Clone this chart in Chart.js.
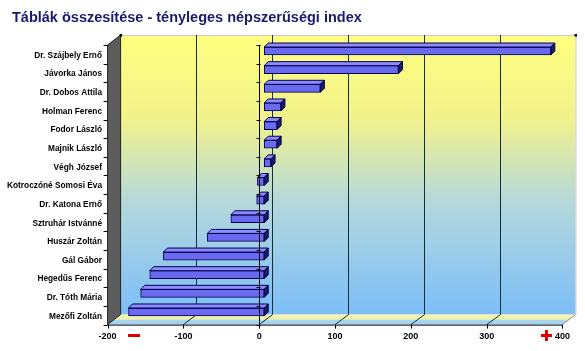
<!DOCTYPE html>
<html>
<head>
<meta charset="utf-8">
<script src="https://cdn.jsdelivr.net/npm/chart.js@4"></script>
<style>
    html, body { margin: 0; padding: 0; background: #ffffff; }
</style>
</head>
<body>
<canvas id="chart" width="585" height="351"></canvas>
<script>

const chartTitle = "Táblák összesítése - tényleges népszerűségi index";

const names = [
    "Dr. Szájbely Ernő",
    "Jávorka János",
    "Dr. Dobos Attila",
    "Holman Ferenc",
    "Fodor László",
    "Majnik László",
    "Végh József",
    "Kotroczóné Somosi Éva",
    "Dr. Katona Ernő",
    "Sztruhár Istvánné",
    "Huszár Zoltán",
    "Gál Gábor",
    "Hegedűs Ferenc",
    "Dr. Tóth Mária",
    "Mezőfi Zoltán"
];

const indexValues = [378, 177, 74, 22, 17, 17, 9, -9, -10, -44, -75, -133, -151, -163, -179];

const xMin = -200;
const xMax = 400;
const xStep = 100;

/* depth of the 3D box */
const FRONT_DX = -5, FRONT_DY = 3.3;
const BACK_DX = 8, BACK_DY = -6.7;
const BAR_D = 4;

const scene3d = {
    id: "scene3d",

    beforeDatasetsDraw(chart) {
        const ctx = chart.ctx;
        const x = chart.scales.x;
        const a = chart.chartArea;

        const fTop = a.top + FRONT_DY, fBot = a.bottom + FRONT_DY;
        const bTop = a.top + BACK_DY, bBot = a.bottom + BACK_DY;
        const fx = v => x.getPixelForValue(v) + FRONT_DX;
        const bx = v => x.getPixelForValue(v) + BACK_DX;

        ctx.save();

        /* title */
        ctx.fillStyle = "#1a1a6e";
        ctx.font = "bold 14.5px Arial, 'Liberation Sans'";
        ctx.textBaseline = "middle";
        ctx.fillText(chartTitle, 12, 18);

        /* back wall */
        const g = ctx.createLinearGradient(0, bTop, 0, bBot);
        g.addColorStop(0, "#ffff80");
        g.addColorStop(0.3, "#f2f28c");
        g.addColorStop(0.6, "#b4d8dc");
        g.addColorStop(1, "#7cbef8");
        ctx.fillStyle = g;
        ctx.fillRect(bx(xMin), bTop, bx(xMax) - bx(xMin), bBot - bTop);

        ctx.strokeStyle = "#c8c8c8";
        ctx.lineWidth = 1;
        ctx.beginPath();
        ctx.moveTo(bx(xMin), bTop + 0.5);
        ctx.lineTo(bx(xMax) + 0.5, bTop + 0.5);
        ctx.lineTo(bx(xMax) + 0.5, bBot);
        ctx.stroke();

        /* floor */
        const fg = ctx.createLinearGradient(0, bBot, 0, fBot);
        fg.addColorStop(0, "#f4f4a8");
        fg.addColorStop(0.45, "#f0f0b0");
        fg.addColorStop(0.6, "#a8d4f0");
        fg.addColorStop(1, "#a0d0f4");
        ctx.fillStyle = fg;
        ctx.beginPath();
        ctx.moveTo(fx(xMin), fBot);
        ctx.lineTo(bx(xMin), bBot);
        ctx.lineTo(bx(xMax), bBot);
        ctx.lineTo(fx(xMax), fBot);
        ctx.closePath();
        ctx.fill();
        ctx.strokeStyle = "#8a8a8a";
        ctx.beginPath();
        ctx.moveTo(bx(xMax), bBot);
        ctx.lineTo(fx(xMax), fBot);
        ctx.stroke();

        /* grid lines on back wall and floor */
        ctx.strokeStyle = "#10303c";
        for (let v = xMin + xStep; v < xMax; v += xStep) {
            const px = Math.round(bx(v)) + 0.5;
            ctx.beginPath();
            ctx.moveTo(px, bTop);
            ctx.lineTo(px, bBot);
            ctx.lineTo(fx(v), fBot);
            ctx.stroke();
        }

        /* left wall */
        ctx.fillStyle = "#5c5c5c";
        ctx.beginPath();
        ctx.moveTo(fx(xMin), fTop);
        ctx.lineTo(bx(xMin), bTop);
        ctx.lineTo(bx(xMin), bBot);
        ctx.lineTo(fx(xMin), fBot);
        ctx.closePath();
        ctx.fill();
        ctx.strokeStyle = "#222";
        ctx.stroke();
        ctx.fillStyle = "#000";
        ctx.fillRect(bx(xMin) - 1, bTop - 1, 2.5, 2.5);
        ctx.fillRect(bx(xMax) - 1, bTop - 1, 2.5, 2.5);

        /* front axis line and ticks */
        ctx.strokeStyle = "#000";
        ctx.beginPath();
        ctx.moveTo(fx(xMin), fBot + 0.5);
        ctx.lineTo(fx(xMax), fBot + 0.5);
        xTicksDraw(ctx, fx, fBot);
        ctx.stroke();

        /* category ticks on the wall edge */
        const band = (a.bottom - a.top) / names.length;
        ctx.beginPath();
        for (let i = 0; i <= names.length; i++) {
            const py = Math.round(fTop + i * band) + 0.5;
            ctx.moveTo(fx(xMin) - 4, py);
            ctx.lineTo(fx(xMin), py);
        }
        ctx.stroke();

        /* red minus / plus markers */
        ctx.fillStyle = "#e00000";
        ctx.fillRect(128, 334, 12, 3);
        ctx.fillRect(541, 334, 11, 3);
        ctx.fillRect(545, 330, 3, 11);

        ctx.restore();
    },

    afterDatasetsDraw(chart) {
        const ctx = chart.ctx;
        const x = chart.scales.x;
        const a = chart.chartArea;
        const meta = chart.getDatasetMeta(0);

        ctx.save();
        ctx.lineWidth = 1;
        ctx.strokeStyle = "#000050";

        meta.data.forEach(bar => {
            const left = Math.min(bar.x, bar.base);
            const right = Math.max(bar.x, bar.base);
            const top = bar.y - bar.height / 2;
            const bottom = bar.y + bar.height / 2;

            /* top face */
            ctx.fillStyle = "#8c8cff";
            ctx.beginPath();
            ctx.moveTo(left, top);
            ctx.lineTo(left + BAR_D, top - BAR_D);
            ctx.lineTo(right + BAR_D, top - BAR_D);
            ctx.lineTo(right, top);
            ctx.closePath();
            ctx.fill();
            ctx.stroke();

            /* side face */
            ctx.fillStyle = "#1c1c5c";
            ctx.beginPath();
            ctx.moveTo(right, top);
            ctx.lineTo(right + BAR_D, top - BAR_D);
            ctx.lineTo(right + BAR_D, bottom - BAR_D);
            ctx.lineTo(right, bottom);
            ctx.closePath();
            ctx.fill();
            ctx.stroke();
        });

        /* value axis at zero with its ticks */
        const zx = Math.round(x.getPixelForValue(0) + FRONT_DX) + 0.5;
        const fTop = a.top + FRONT_DY, fBot = a.bottom + FRONT_DY;
        const band = (a.bottom - a.top) / names.length;
        ctx.strokeStyle = "#000";
        ctx.beginPath();
        ctx.moveTo(zx, fTop);
        ctx.lineTo(zx, fBot);
        for (let i = 0; i <= names.length; i++) {
            const py = Math.round(fTop + i * band) + 0.5;
            ctx.moveTo(zx - 3, py);
            ctx.lineTo(zx + 1, py);
        }
        ctx.stroke();

        ctx.restore();
    }
};

function xTicksDraw(ctx, fx, fBot) {
    for (let v = xMin; v <= xMax; v += xStep) {
        ctx.moveTo(Math.round(fx(v)) + 0.5, fBot);
        ctx.lineTo(Math.round(fx(v)) + 0.5, fBot + 4);
    }
}

new Chart(document.getElementById("chart"), {
    type: "bar",
    data: {
        labels: names,
        datasets: [{
            data: indexValues,
            backgroundColor: "#6a6af0",
            borderColor: "#000050",
            borderWidth: 1,
            borderSkipped: false,
            barThickness: 8
        }]
    },
    options: {
        indexAxis: "y",
        responsive: false,
        animation: false,
        layout: {
            padding: { left: 0, right: 15, top: 41.7, bottom: 0 }
        },
        plugins: {
            legend: { display: false },
            tooltip: { enabled: false },
            title: { display: false }
        },
        scales: {
            x: {
                min: xMin,
                max: xMax,
                grid: { display: false, drawTicks: false },
                border: { display: false },
                ticks: {
                    stepSize: xStep,
                    padding: 10,
                    labelOffset: FRONT_DX,
                    color: "#000",
                    font: { family: "Arial, 'Liberation Sans'", size: 9, weight: "bold" }
                },
                afterFit(scale) { scale.height = 29.7; }
            },
            y: {
                grid: { display: false, drawTicks: false },
                border: { display: false },
                ticks: {
                    padding: 10.6,
                    labelOffset: 4.5,
                    color: "#000",
                    font: { family: "Arial, 'Liberation Sans'", size: 8.3, weight: "bold" }
                },
                afterFit(scale) { scale.width = 112.6; }
            }
        }
    },
    plugins: [scene3d]
});
</script>
</body>
</html>
